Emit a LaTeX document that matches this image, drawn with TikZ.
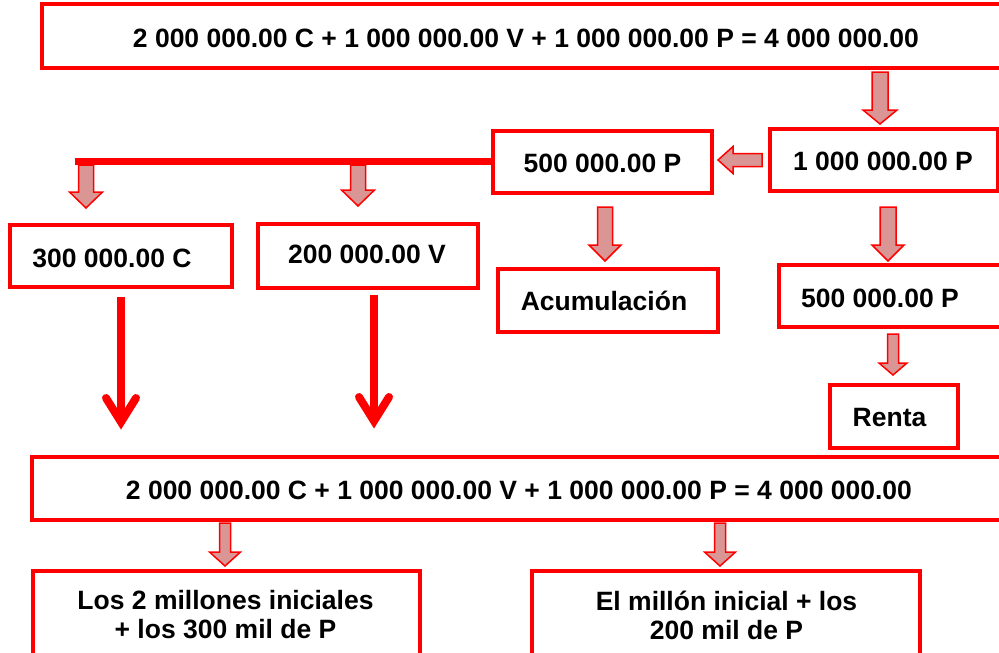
\documentclass[tikz,border=0pt]{standalone}
\usepackage{fontspec}
\setmainfont{Liberation Sans}
\usetikzlibrary{calc}
\definecolor{boxred}{RGB}{255,0,0}
\definecolor{afill}{RGB}{217,150,148}
\newcommand\boxat[5]{\node[box, minimum width={(#4)-(#2)}, minimum height={(#5)-(#3)}] (#1) at ({((#2)+(#4))/2},{((#3)+(#5))/2}) {};}
% block arrow pointing down: start, tip, half shaft, half head, head length
\newcommand\bdown[5]{\draw[blk] let \p1=(#1), \p2=(#2) in
  (\x1-#3,\y1) -- (\x1+#3,\y1) -- (\x1+#3,\y2+#5) -- (\x1+#4,\y2+#5) -- (\x1,\y2)
  -- (\x1-#4,\y2+#5) -- (\x1-#3,\y2+#5) -- cycle;}
% block arrow pointing left
\newcommand\bleft[5]{\draw[blk] let \p1=(#1), \p2=(#2) in
  (\x1,\y1-#3) -- (\x1,\y1+#3) -- (\x2+#5,\y1+#3) -- (\x2+#5,\y1+#4) -- (\x2,\y1)
  -- (\x2+#5,\y1-#4) -- (\x2+#5,\y1-#3) -- cycle;}
\begin{document}
\begin{tikzpicture}[x=1pt,y=-1pt,
  box/.style={draw=boxred, line width=3.8pt, rectangle, inner sep=0pt, outer sep=0pt},
  lbl/.style={font=\bfseries\fontsize{26.5}{29}\selectfont, inner sep=0pt, align=center, text=black},
  blk/.style={draw=boxred, fill=afill, line width=1.5pt, line join=miter},
  redarr/.style={draw=boxred, line width=8pt}]
\useasboundingbox (0,0) rectangle (999,653);
\clip (0,0) rectangle (999,653);

% boxes
\boxat{topEq}{42}{4}{1010}{68}
\boxat{P1M}{770}{129}{998}{191}
\boxat{P500a}{493}{131}{712}{193}
\boxat{C300}{10}{225}{232}{287}
\boxat{V200}{258}{224}{478}{288}
\boxat{Acum}{498}{269}{718}{332}
\boxat{P500b}{779}{265}{1010}{327}
\boxat{Renta}{830}{385}{958}{448}
\boxat{botEq}{32}{457}{1010}{520}
\boxat{Los}{33}{571}{420}{665}
\boxat{El}{532}{571}{920}{665}

% texts
\node[lbl, anchor=base] (tTop) at (526,47) {2 000 000.00 C + 1 000 000.00 V + 1 000 000.00 P = 4 000 000.00};
\node[lbl, anchor=base] (tP1M) at (883,170) {1 000 000.00 P};
\node[lbl, anchor=base] (tP500a) at (602.5,172) {500 000.00 P};
\node[lbl, anchor=base] (tC300) at (112,267) {300 000.00 C};
\node[lbl, anchor=base] (tV200) at (367,263) {200 000.00 V};
\node[lbl, anchor=base] (tAcum) at (604,310) {Acumulación};
\node[lbl, anchor=base] (tP500b) at (880,307) {500 000.00 P};
\node[lbl, anchor=base] (tRenta) at (889.5,426) {Renta};
\node[lbl, anchor=base] (tBot) at (519,499) {2 000 000.00 C + 1 000 000.00 V + 1 000 000.00 P = 4 000 000.00};
\node[lbl] (tLos) at (225.5,615) {Los 2 millones iniciales\\+ los 300 mil de P};
\node[lbl] (tEl) at (726.5,615) {El millón inicial + los\\200 mil de P};

% thick branch line
\coordinate (lineL) at (75,161.5);
\draw[draw=boxred, line width=7pt] (P500a.west |- lineL) -- (lineL);

% block arrows
\bdown{$(P1M.north |- topEq.south)+(-4pt,-4pt)$}{$(P1M.north)+(-4pt,5pt)$}{8pt}{17pt}{14pt}
\bleft{$(P1M.west)+(-8pt,0pt)$}{$(P500a.east)+(6pt,0pt)$}{6.5pt}{13.5pt}{15pt}
\bdown{$(lineL)+(11pt,-3.5pt)$}{$(C300.north)+(0pt,17pt)$}{7.5pt}{16.5pt}{16pt}
\bdown{$(lineL)+(283pt,-3.5pt)$}{$(V200.north)+(0pt,18pt)$}{7.5pt}{16.5pt}{16pt}
\bdown{$(P500a.south)+(2.5pt,-14pt)$}{$(Acum.north)+(0pt,8pt)$}{7.5pt}{16pt}{16pt}
\bdown{$(P1M.south)+(4pt,-16pt)$}{$(P500b.north)+(0pt,4pt)$}{8pt}{16pt}{16pt}
\bdown{$(Renta.north |- P500b.south)+(-1pt,-7pt)$}{$(Renta.north)+(0pt,10pt)$}{5.5pt}{14pt}{12pt}
\bdown{$(Los.north |- botEq.south)+(-1.5pt,-3pt)$}{$(Los.north)+(0pt,5pt)$}{5.5pt}{15.5pt}{14pt}
\bdown{$(El.north |- botEq.south)+(-6pt,-3pt)$}{$(El.north)+(0pt,5pt)$}{5.5pt}{15.5pt}{14pt}

% red line arrows
\coordinate (r1e) at ($(C300.south |- botEq.north)+(0pt,28pt)$);
\draw[redarr] ($(C300.south)+(0pt,-10pt)$) -- ($(r1e)+(0pt,7pt)$);
\draw[redarr, line cap=round, line join=miter] ($(r1e)+(-15pt,31pt)$) -- ($(r1e)+(0pt,7pt)$) -- ($(r1e)+(15pt,31pt)$);
\coordinate (r2e) at ($(V200.south |- botEq.north)+(6pt,29pt)$);
\draw[redarr] ($(V200.south)+(6pt,-7pt)$) -- ($(r2e)+(0pt,7pt)$);
\draw[redarr, line cap=round, line join=miter] ($(r2e)+(-15pt,31pt)$) -- ($(r2e)+(0pt,7pt)$) -- ($(r2e)+(15pt,31pt)$);
\end{tikzpicture}
\end{document}
